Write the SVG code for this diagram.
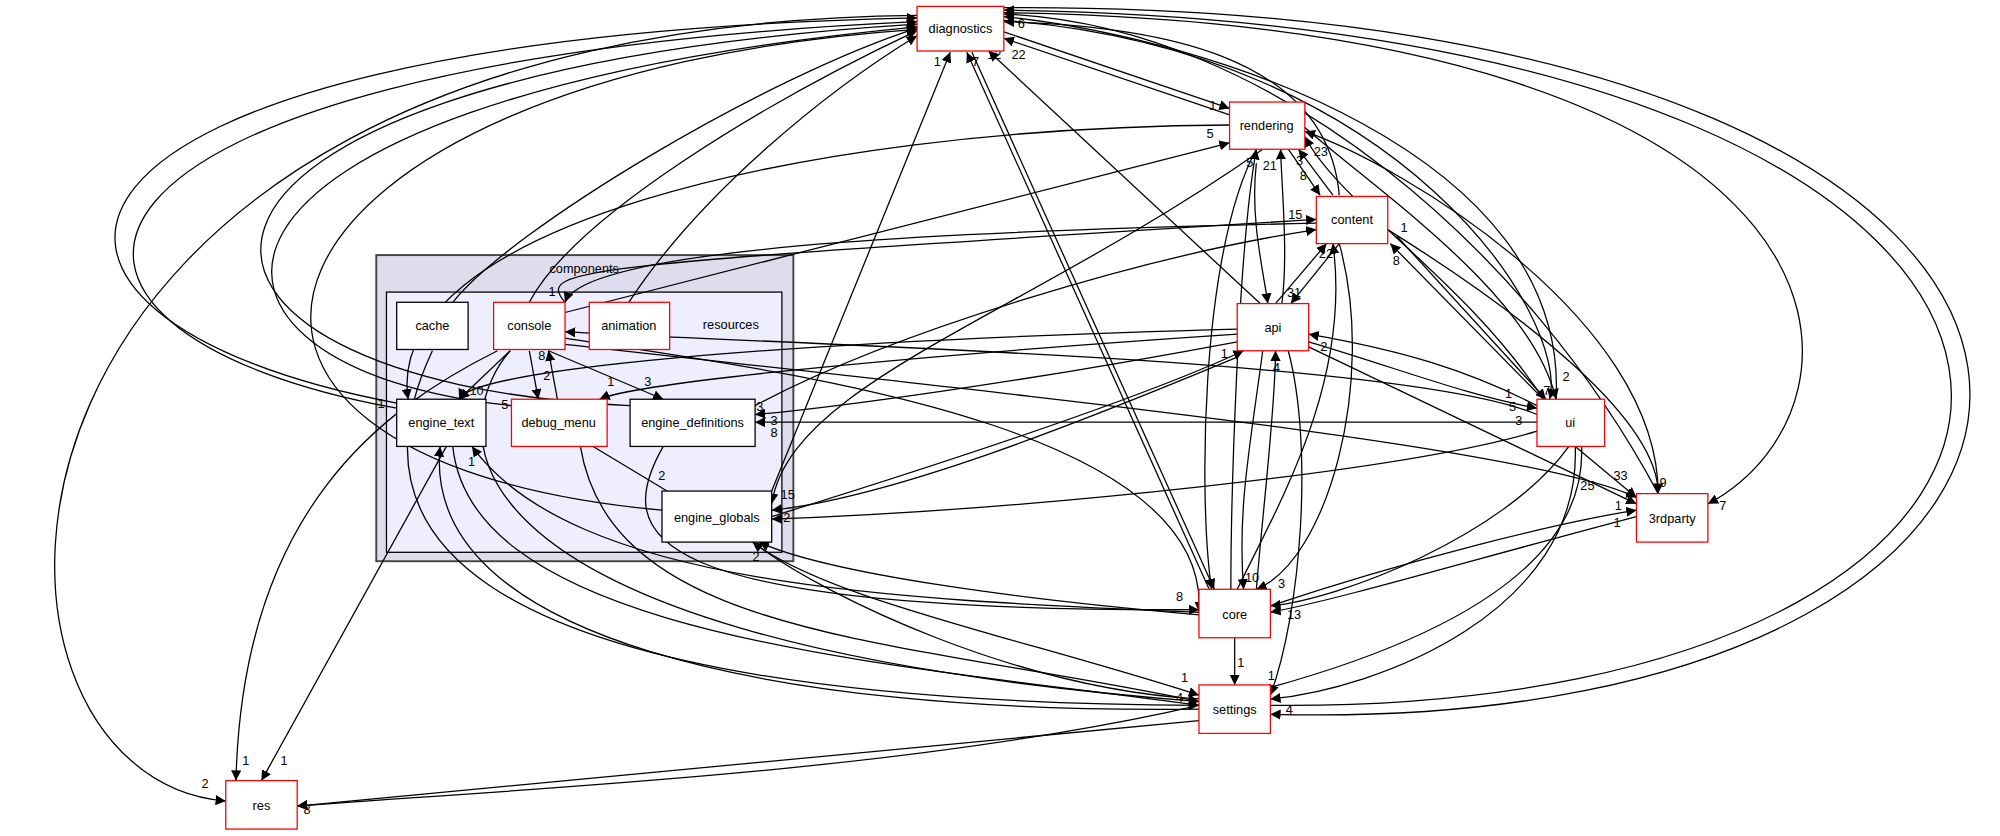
<svg xmlns="http://www.w3.org/2000/svg" width="2000" height="836" viewBox="0 0 2000 836">
<style>
text{font-family:"Liberation Sans",Arial,sans-serif;font-size:10px;fill:#000}
.n{fill:#fff;stroke-width:1}
.r{stroke:#f00}.b{stroke:#000}
.e path{fill:none;stroke:#000;stroke-width:1;marker-end:url(#a)}
</style>
<defs><marker id="a" viewBox="0 0 10 10" refX="10" refY="5" markerWidth="8" markerHeight="8" orient="auto" markerUnits="userSpaceOnUse"><path d="M0,0L10,5L0,10z" fill="#000"/></marker></defs>
<rect width="2000" height="836" fill="#fff"/>
<g transform="scale(1.2755)">
<g id="cluster_components"><rect x="295" y="200" width="327" height="240" fill="#ddddee" stroke="#444" stroke-width="1.5"/><text x="458" y="214" text-anchor="middle">components</text>
<rect x="303" y="229" width="310" height="204" fill="#eeeeff" stroke="#000"/><text x="573" y="258" text-anchor="middle">resources</text></g>
<g class="e" id="edges">
<path d="M355,237C400,180 600,60 719,22"/>
<path d="M415,237C450,170 600,80 719,24"/>
<path d="M493,237C550,150 650,70 719,28"/>
<path d="M311,320C-20,260 0,50 719,17"/>
<path d="M311,316C-40,250 -20,30 719,14"/>
<path d="M494,318C90,300 60,60 719,19"/>
<path d="M401,318C120,290 100,80 719,21"/>
<path d="M519,400C80,360 180,60 719,23"/>
<path d="M719,12C-60,20 -50,610 177,628"/>
<path d="M605,385L745,41"/>
<path d="M762,41L952,462"/>
<path d="M948,462L758,41"/>
<path d="M988,238L775,40"/>
<path d="M964,90L787,30"/>
<path d="M787,25L964,85"/>
<path d="M1050,153C1040,40 900,20 787,17"/>
<path d="M1220,313C1230,120 950,30 787,13"/>
<path d="M787,16C1100,40 1230,250 1215,313"/>
<path d="M1300,387C1200,200 1000,20 787,11"/>
<path d="M787,10C1480,20 1480,320 1339,395"/>
<path d="M996,553C1730,560 1750,20 787,8"/>
<path d="M787,6C1780,0 1740,580 996,560"/>
<path d="M964,98C620,100 300,180 320,313"/>
<path d="M443,245L964,112"/>
<path d="M990,117C800,250 620,300 605,395"/>
<path d="M985,117C940,200 940,400 950,462"/>
<path d="M965,462C965,400 970,200 985,117"/>
<path d="M985,128C980,170 990,210 994,238"/>
<path d="M1005,238C1010,200 1005,150 1004,117"/>
<path d="M1010,117L1035,153"/>
<path d="M1045,153L1018,117"/>
<path d="M1210,313C1150,220 1050,160 1023,107"/>
<path d="M1023,100C1080,150 1200,230 1220,313"/>
<path d="M1300,387C1300,250 1100,130 1023,103"/>
<path d="M443,237C420,210 450,208 1032,172"/>
<path d="M1032,175C800,180 460,190 443,237"/>
<path d="M592,318C700,260 900,200 1032,180"/>
<path d="M1000,238L1040,191"/>
<path d="M1050,191L1012,238"/>
<path d="M970,258C600,268 370,290 360,313"/>
<path d="M970,262C700,280 500,300 470,313"/>
<path d="M970,268C800,300 650,320 592,325"/>
<path d="M970,280C850,330 700,390 605,400"/>
<path d="M605,405C750,360 900,310 975,275"/>
<path d="M1205,325C1100,280 600,270 443,260"/>
<path d="M1205,331L592,331"/>
<path d="M1205,338C1100,370 800,400 605,407"/>
<path d="M1205,318C1150,290 1100,275 1026,262"/>
<path d="M1026,268C1100,290 1150,310 1205,320"/>
<path d="M1210,313L1090,191"/>
<path d="M1095,185L1212,313"/>
<path d="M1026,272L1283,395"/>
<path d="M1235,350L1283,390"/>
<path d="M1088,180C1200,250 1300,330 1300,387"/>
<path d="M996,475C1100,440 1220,410 1283,400"/>
<path d="M1283,405C1150,440 1050,470 996,480"/>
<path d="M1230,350C1180,420 1050,470 996,475"/>
<path d="M1235,350C1240,480 1080,540 996,548"/>
<path d="M1240,350C1250,590 500,610 233,632"/>
<path d="M968,500L968,537"/>
<path d="M1010,275C1030,350 1020,480 996,545"/>
<path d="M990,275C980,350 970,400 975,462"/>
<path d="M985,462C990,400 1000,320 1000,275"/>
<path d="M1050,191C1080,300 1040,440 985,462"/>
<path d="M970,462C1000,400 1060,300 1045,191"/>
<path d="M400,275C360,320 300,500 940,550"/>
<path d="M390,275C300,320 190,400 185,612"/>
<path d="M443,265C600,290 950,330 940,480"/>
<path d="M443,270C800,310 1200,350 1283,390"/>
<path d="M400,275L360,313"/>
<path d="M415,275L422,313"/>
<path d="M437,313L430,275"/>
<path d="M430,275L520,313"/>
<path d="M465,350L548,400"/>
<path d="M455,350C480,500 700,500 940,550"/>
<path d="M350,350L205,612"/>
<path d="M355,350C370,500 700,520 940,553"/>
<path d="M940,556C600,560 330,500 345,350"/>
<path d="M940,480C700,470 450,460 370,350"/>
<path d="M520,350C480,420 500,480 940,478"/>
<path d="M590,425C650,470 800,500 940,545"/>
<path d="M940,548C800,540 650,470 590,425"/>
<path d="M940,482C800,470 650,450 595,425"/>
<path d="M940,565L233,632"/>
<path d="M339,275C280,400 320,550 940,553"/>
</g>
<g id="labels">
<text x="710" y="21">5</text><text x="732" y="52">1</text><text x="762" y="52">7</text><text x="774" y="46">12</text><text x="793" y="46">22</text><text x="798" y="22">6</text>
<text x="948" y="86">1</text><text x="946" y="108">5</text><text x="977" y="131">5</text><text x="990" y="133">21</text><text x="1016" y="129">3</text><text x="1019" y="141">8</text><text x="1030" y="122">23</text>
<text x="1010" y="172">15</text><text x="1034" y="202">22</text><text x="1009" y="233">31</text><text x="981" y="250">249</text><text x="1098" y="182">1</text><text x="1092" y="208">8</text>
<text x="957" y="281">1</text><text x="998" y="292">4</text><text x="1035" y="275">2</text>
<text x="1188" y="333">3</text><text x="1183" y="322">5</text><text x="1210" y="310">7</text><text x="1225" y="299">2</text><text x="1180" y="312">1</text>
<text x="1265" y="376">33</text><text x="1239" y="384">25</text><text x="1266" y="400">1</text><text x="1301" y="382">9</text><text x="1348" y="400">7</text>
<text x="1265" y="413">1</text><text x="954" y="477">19</text><text x="976" y="456">10</text><text x="1002" y="461">3</text><text x="1009" y="485">13</text><text x="922" y="471">8</text>
<text x="970" y="523">1</text><text x="994" y="533">1</text><text x="926" y="535">1</text><text x="922" y="550">4</text><text x="1008" y="560">4</text>
<text x="158" y="618">2</text><text x="190" y="600">1</text><text x="220" y="600">1</text><text x="238" y="638">8</text>
<text x="430" y="232">1</text><text x="422" y="282">8</text><text x="426" y="298">2</text><text x="368" y="310">10</text><text x="393" y="321">5</text><text x="505" y="303">3</text><text x="476" y="303">1</text>
<text x="296" y="320">1</text><text x="367" y="365">1</text><text x="516" y="376">2</text><text x="593" y="322">3</text><text x="604" y="333">3</text><text x="604" y="343">8</text>
<text x="612" y="391">15</text><text x="614" y="409">2</text><text x="590" y="440">2</text>
</g>
<g id="diagnostics"><rect class="n r" x="719" y="5" width="68" height="35"/><text x="753" y="26" text-anchor="middle">diagnostics</text></g>
<g id="rendering"><rect class="n r" x="964" y="80" width="59" height="37"/><text x="993" y="102" text-anchor="middle">rendering</text></g>
<g id="content"><rect class="n r" x="1032" y="154" width="56" height="37"/><text x="1060" y="176" text-anchor="middle">content</text></g>
<g id="api"><rect class="n r" x="970" y="238" width="56" height="37"/><text x="998" y="260" text-anchor="middle">api</text></g>
<g id="ui"><rect class="n r" x="1205" y="313" width="53" height="37"/><text x="1231" y="335" text-anchor="middle">ui</text></g>
<g id="3rdparty"><rect class="n r" x="1283" y="387" width="56" height="38"/><text x="1311" y="410" text-anchor="middle">3rdparty</text></g>
<g id="core"><rect class="n r" x="940" y="462" width="56" height="38"/><text x="968" y="485" text-anchor="middle">core</text></g>
<g id="settings"><rect class="n r" x="940" y="537" width="56" height="38"/><text x="968" y="560" text-anchor="middle">settings</text></g>
<g id="res"><rect class="n r" x="177" y="612" width="56" height="38"/><text x="205" y="635" text-anchor="middle">res</text></g>
<g id="cache"><rect class="n b" x="311" y="237" width="56" height="37"/><text x="339" y="259" text-anchor="middle">cache</text></g>
<g id="console"><rect class="n r" x="387" y="237" width="56" height="37"/><text x="415" y="259" text-anchor="middle">console</text></g>
<g id="animation"><rect class="n r" x="462" y="237" width="63" height="37"/><text x="493" y="259" text-anchor="middle">animation</text></g>
<g id="engine_text"><rect class="n b" x="311" y="313" width="70" height="37"/><text x="346" y="335" text-anchor="middle">engine_text</text></g>
<g id="debug_menu"><rect class="n r" x="401" y="313" width="75" height="37"/><text x="438" y="335" text-anchor="middle">debug_menu</text></g>
<g id="engine_definitions"><rect class="n b" x="494" y="313" width="98" height="37"/><text x="543" y="335" text-anchor="middle">engine_definitions</text></g>
<g id="engine_globals"><rect class="n b" x="519" y="385" width="86" height="40"/><text x="562" y="409" text-anchor="middle">engine_globals</text></g>
</g>
</svg>
